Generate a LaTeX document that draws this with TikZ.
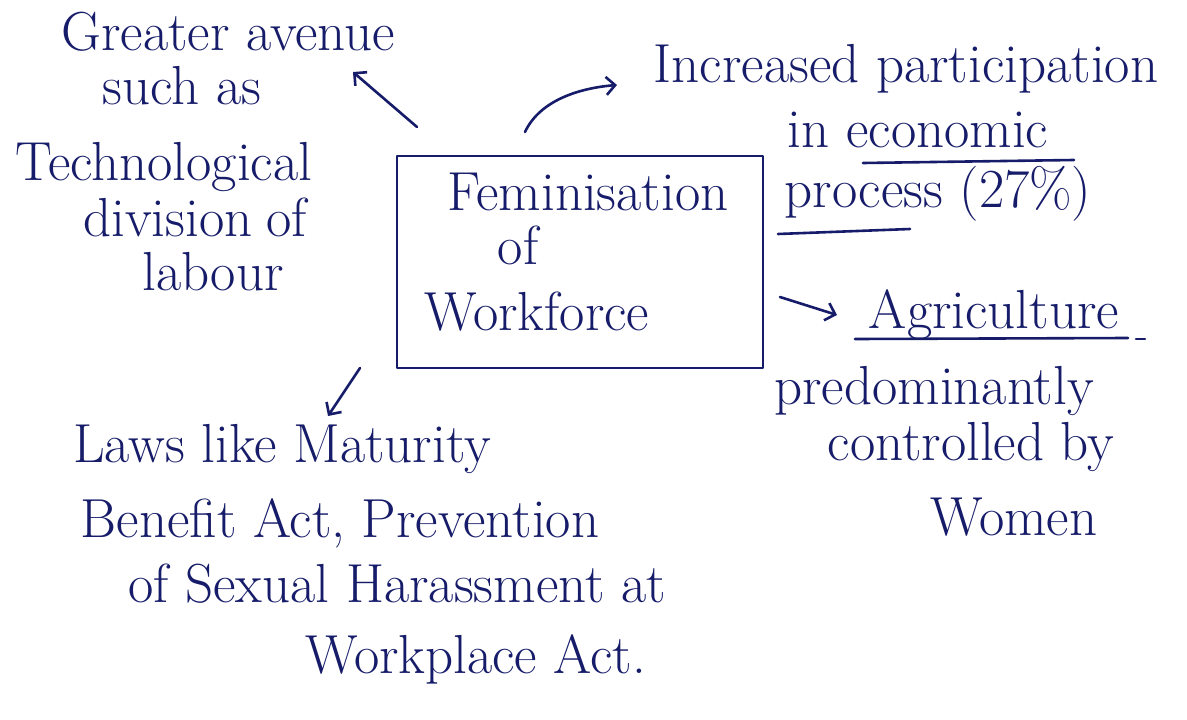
\documentclass[tikz,border=0pt]{standalone}
\usetikzlibrary{arrows.meta}
\definecolor{ink}{RGB}{22,28,105}
\begin{document}
\begin{tikzpicture}[x=1pt,y=-1pt,
  hand/.style={font=\fontsize{55}{64}\selectfont, text=ink, inner sep=0pt, anchor=base},
  pen/.style={draw=ink, line width=2.6pt, line cap=round, line join=round},
  arr/.style={pen, -{Straight Barb[length=9pt,width=18pt]}},
  framebox/.style={pen, minimum width=366pt, minimum height=212pt, inner sep=0pt}]
\useasboundingbox (0,0) rectangle (1187,720);
\fill[white] (0,0) rectangle (1187,720);

% central box
\node[framebox] (box) at (580,262) {};
\node[hand] (fem)  at (588,210) {Feminisation};
\node[hand] (of)   at (518,264) {of};
\node[hand] (work) at (537,330) {Workforce};

% upper left note
\node[hand] (g1) at (228,50)  {Greater avenue};
\node[hand] (g2) at (182,104) {such as};
\node[hand] (g3) at (164,180) {Technological};
\node[hand] (g4) at (195,236) {division\hspace{14pt}of};
\node[hand] (g5) at (213,290) {labour};

% upper right note
\node[hand] (p1) at (906,82)  {Increased participation};
\node[hand] (p2) at (918,147) {in economic};
\node[hand] (p3) at (938,207) {process (27\%)};
\draw[pen] (863,163) -- (1074,160);
\draw[pen] (778,234) -- (910,229);

% lower right note
\node[hand] (a1) at (994,328)  {Agriculture};
\node[hand] (a2) at (934,404)  {predominantly};
\node[hand] (a3) at (971,460)  {controlled by};
\node[hand] (a4) at (1014,535) {Women};
\draw[pen] (855,339) -- (1128,338);
\draw[pen] (1136,339) -- (1145,339);

% lower left note
\node[hand] (l1) at (282,462) {Laws like Maturity};
\node[hand] (l2) at (340,537) {Benefit Act, Prevention};
\node[hand] (l3) at (397,602) {of Sexual Harassment at};
\node[hand] (l4) at (476,673) {Workplace Act.};

% arrows leaving the box
\coordinate (sA) at (417,127);
\coordinate (eA) at (353,72);
\coordinate (sB) at (525,132);
\coordinate (eB) at (617,85);
\coordinate (sC) at (780,297);
\coordinate (eC) at (837,315);
\coordinate (sD) at (360,368);
\coordinate (eD) at (328,416);
\draw[arr] (sA) -- (eA);
\draw[arr] (sB) .. controls (540,100) and (580,88) .. (eB);
\draw[arr] (sC) -- (eC);
\draw[arr] (sD) -- (eD);
\end{tikzpicture}
\end{document}
